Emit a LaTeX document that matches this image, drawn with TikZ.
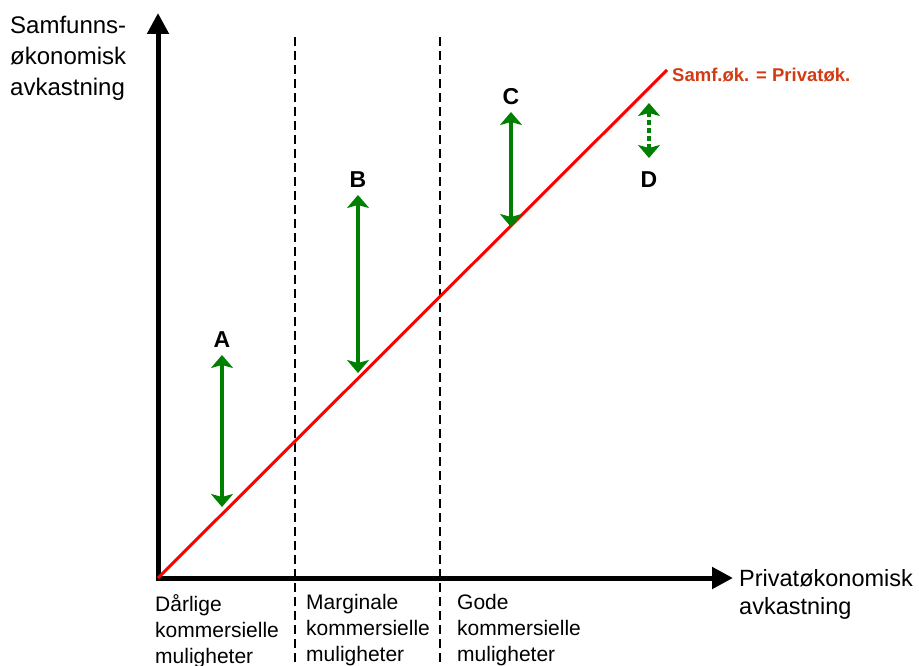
\documentclass[tikz,border=0pt]{standalone}
\usepackage{fontspec}
\setmainfont{Liberation Sans}
\usetikzlibrary{arrows.meta, positioning}
\definecolor{gronn}{RGB}{0,128,0}
\definecolor{samfrod}{RGB}{210,60,20}

\begin{document}
\begin{tikzpicture}[x=1pt, y=-1pt,
    akse/.style={line width=5pt, -{Triangle[length=21pt, width=21pt]}},
    skille/.style={line width=2.8pt, dash pattern=on 9pt off 5pt},
    pil/.style={gronn, line width=4pt, {Stealth[length=13pt, width=22pt, inset=3pt]}-{Stealth[length=13pt, width=22pt, inset=3pt]}},
    prikkpil/.style={pil, dash pattern=on 5pt off 3pt},
    bokstav/.style={inner sep=0pt, font=\fontsize{23}{28}\selectfont\bfseries},
    tekst/.style={align=left, inner sep=0pt, anchor=north west, font=\fontsize{21}{26}\selectfont}]
    \path[use as bounding box] (0, 0) rectangle (919, 666);

    % akser
    \coordinate (O) at (158, 578);
    \coordinate (ytopp) at (158, 13);
    \coordinate (xende) at (733, 578);
    \draw[akse] ([yshift=-2.5pt]O) -- (ytopp);
    \draw[akse] ([xshift=-2.5pt]O) -- (xende);

    % skillelinjer
    \draw[skille] (295, 37) -- (295, 666);
    \draw[skille] (440, 37) -- (440, 666);

    % 45-graders linje
    \coordinate (rodende) at (667, 70);
    \draw[red, line width=3pt] (O) -- (rodende);
    \node[anchor=west, inner sep=0pt, text=samfrod, font=\fontsize{18.5}{22}\selectfont\bfseries]
        (likhet) at (672, 75) {Samf.øk. = Privatøk.};

    % piler
    \foreach \navn/\x/\a/\b in {A/222/355/507, B/358/195/373, C/511/112/227} {
        \coordinate (\navn topp) at (\x, \a);
        \coordinate (\navn bunn) at (\x, \b);
        \draw[pil] (\navn topp) -- (\navn bunn);
        \node[bokstav] (\navn) at (\x, \a - 15) {\navn};
    }
    \coordinate (Dtopp) at (649, 103);
    \coordinate (Dbunn) at (649, 158);
    \draw[prikkpil] (Dtopp) -- (Dbunn);
    \node[bokstav] (D) at (649, 180) {D};

    % tekster
    \node[tekst, font=\fontsize{24}{31}\selectfont] (ytekst) at (10, 16) {Samfunns-\\økonomisk\\avkastning};
    \node[tekst, font=\fontsize{23.5}{28}\selectfont] (xtekst) at (739, 569) {Privatøkonomisk\\avkastning};
    \node[tekst] (darlig) at (155, 594) {Dårlige\\kommersielle\\muligheter};
    \node[tekst] (marginal) at (306, 594) {Marginale\\kommersielle\\muligheter};
    \node[tekst] (gode) at (457, 594) {Gode\\kommersielle\\muligheter};
\end{tikzpicture}
\end{document}
